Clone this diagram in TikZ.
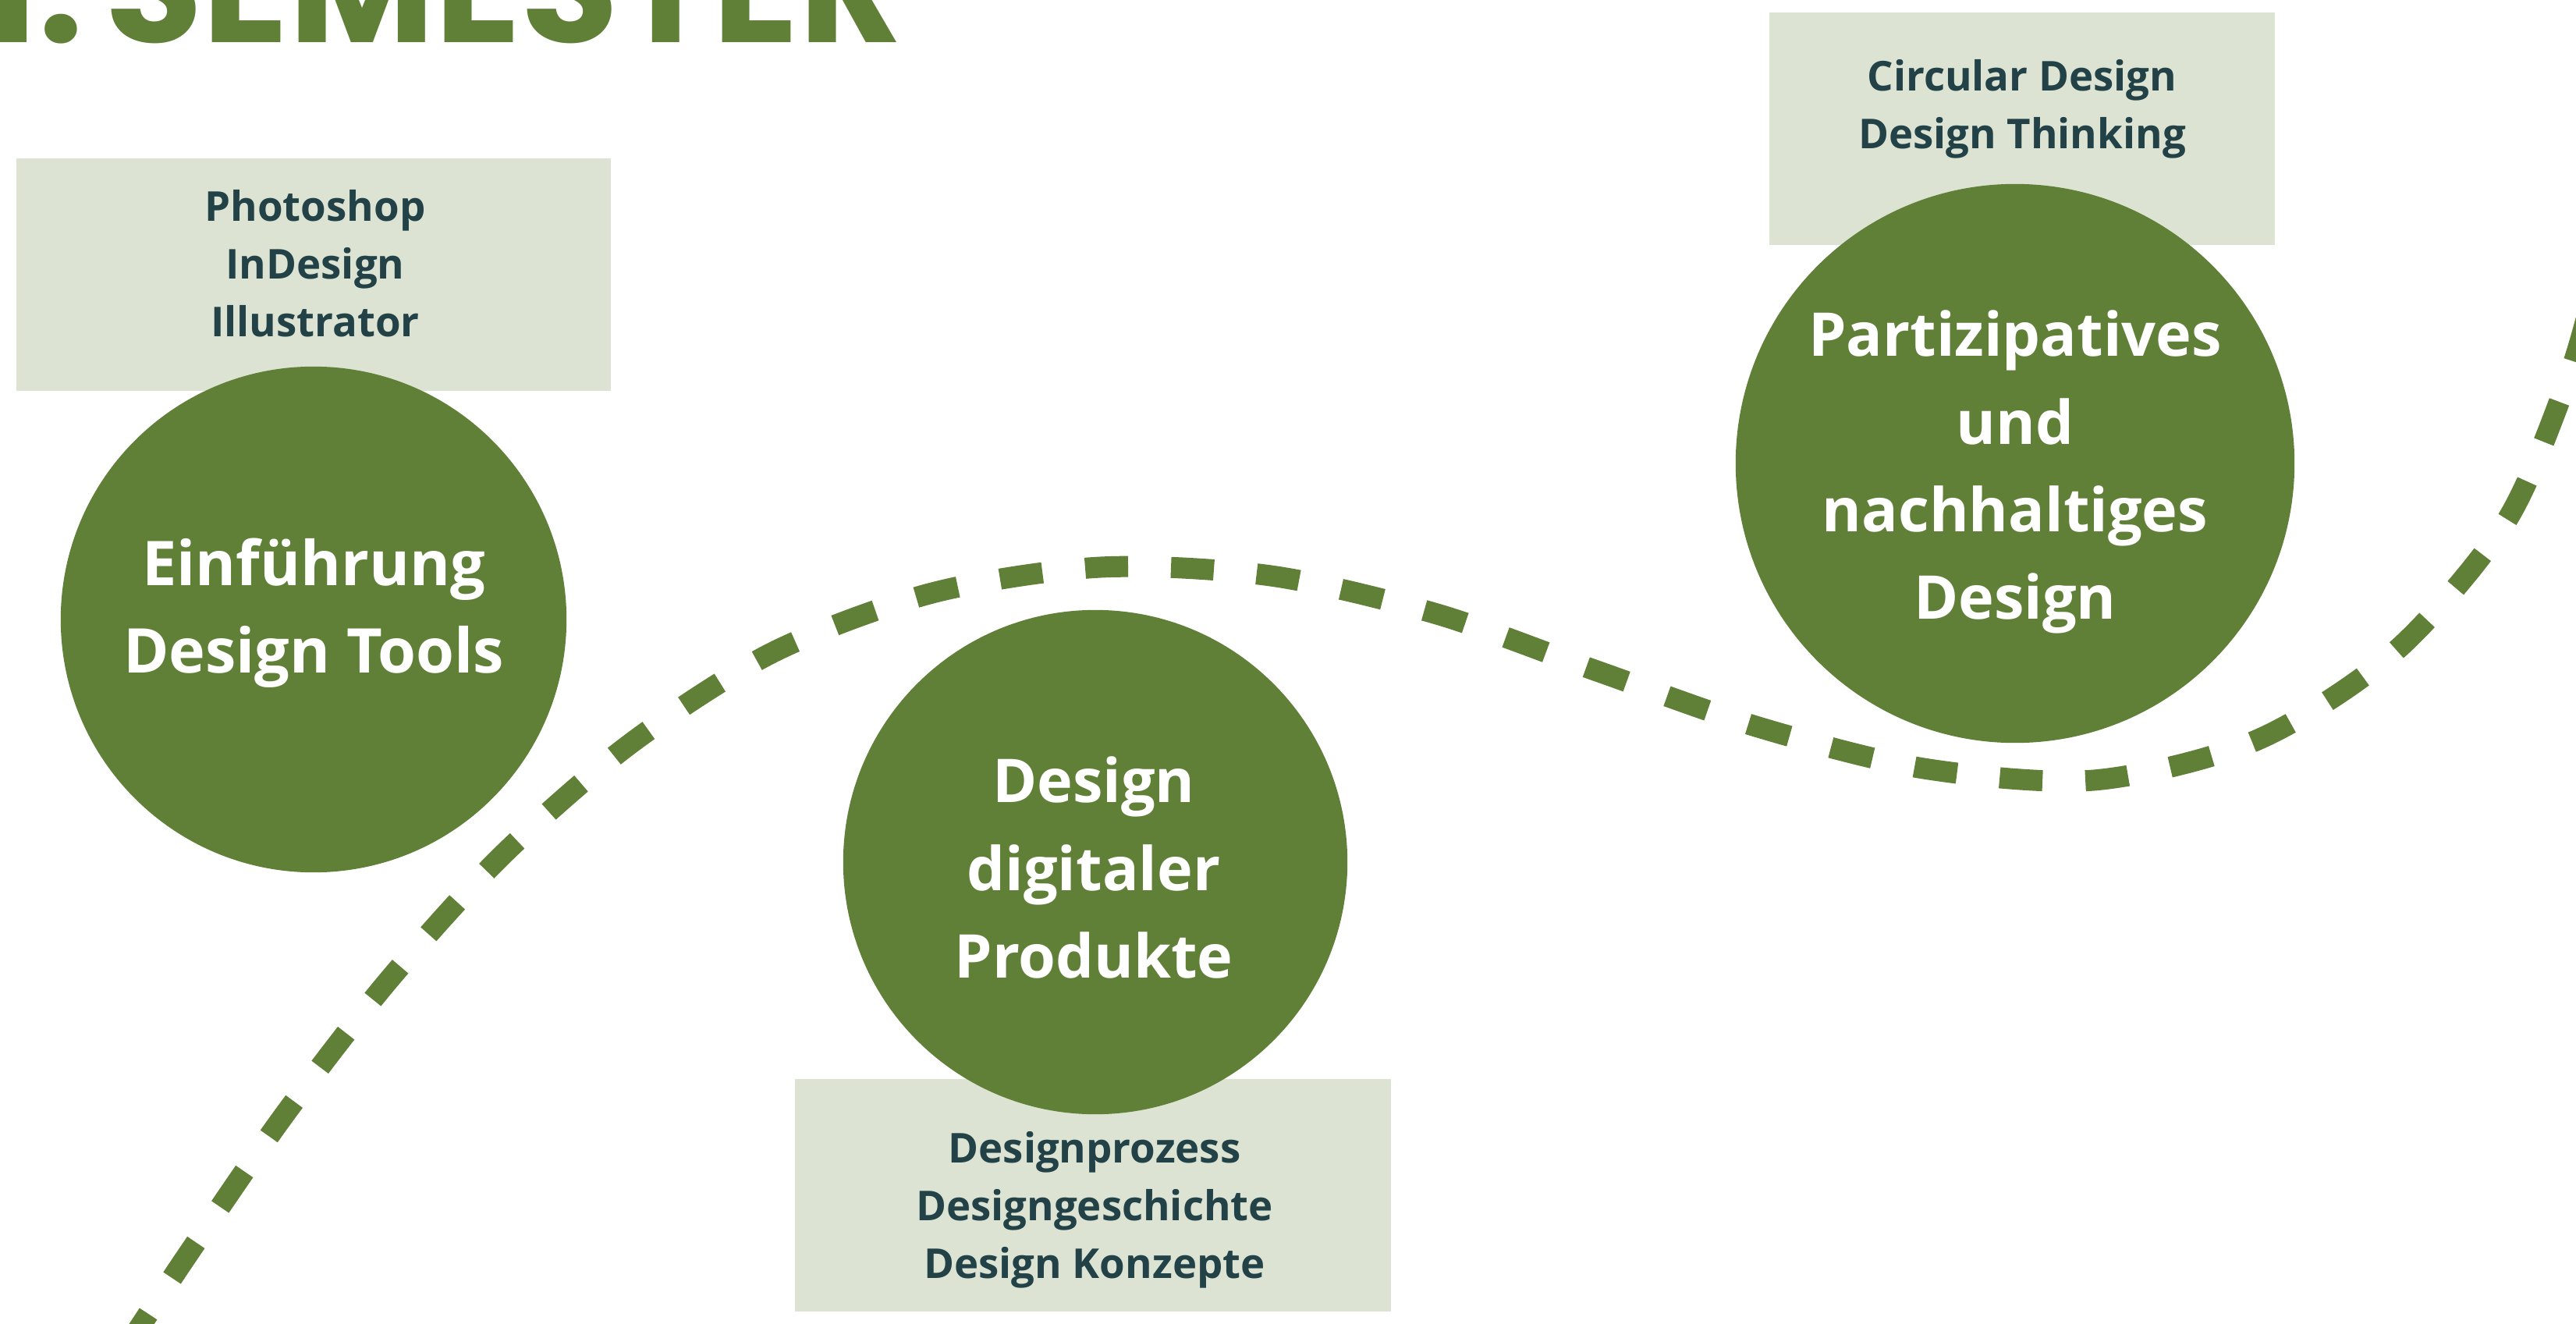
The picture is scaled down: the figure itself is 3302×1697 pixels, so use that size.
\documentclass[tikz,border=0pt]{standalone}
\usepackage{fontspec}
\setmainfont{Open Sans}
\newfontfamily\titlefont{Poppins}
\usepackage{tikz}

\definecolor{LeafGreen}{RGB}{96,128,56}
\definecolor{SageBox}{RGB}{220,227,210}
\definecolor{DarkTeal}{RGB}{34,66,72}

\tikzset{
  topic/.style = {circle, fill = LeafGreen, inner sep = 0pt},
  topictext/.style = {text = white, font = \fontsize{22}{31.9}\selectfont\bfseries, align = center, inner sep = 0pt},
  infobox/.style = {rectangle, fill = SageBox, inner sep = 0pt},
  infotext/.style = {text = DarkTeal, font = \fontsize{15}{21}\selectfont\bfseries, align = center, inner sep = 0pt},
  pathline/.style = {LeafGreen, line width = 0.27cm, dash pattern = on 0.55cm off 0.55cm}
}

\begin{document}
\begin{tikzpicture}[x = 0.01cm, y = -0.01cm]
              \useasboundingbox (0,0) rectangle (3302,1697);
              \clip (0,0) rectangle (3302,1697);
              \draw [pathline] plot [smooth, tension = 0.5] coordinates {(160,1730) (238,1612) (363,1431) (496,1259) (643,1097) (807,954) (991,836) (1195,760) (1411,727) (1629,738) (1842,787) (2047,860) (2254,932) (2466,985) (2684,1000) (2892,949) (3070,835) (3212,669) (3290,490) (3320,390)};
              \node (title) [anchor = base east, inner sep = 0pt, text = LeafGreen, font = \titlefont\fontsize{58}{60}\selectfont\bfseries] at (1158,55) {1.\hspace{-0.3cm} SEMESTER};
              \node (toolsbox) [infobox, minimum width = 7.62cm, minimum height = 2.97cm] at (402,352) {};
              \node (digitalbox) [infobox, minimum width = 7.63cm, minimum height = 2.97cm] at (1401,1532) {};
              \node (designbox) [infobox, minimum width = 6.48cm, minimum height = 2.97cm] at (2592,165) {};
              \node (tools) [topic, minimum size = 6.48cm] at (402,794) {};
              \node (digital) [topic, minimum size = 6.46cm] at (1404,1105) {};
              \node (design) [topic, minimum size = 7.16cm] at (2583,594) {};
              \node (toolslist) [infotext] at (404,338) {Photoshop\\InDesign\\Illustrator};
              \node (digitallist) [infotext] at (1403,1551) {Designprozess\\Designgeschichte\\Design Konzepte};
              \node (designlist) [infotext] at (2592,140) {Circular Design\\Design Thinking};
              \node (toolsname) [topictext, font = \fontsize{22.5}{31.9}\selectfont\bfseries] at (402,786) {Einführung\\Design Tools};
              \node (digitalname) [topictext] at (1402,1112) {Design\\digitaler\\Produkte};
              \node (designname) [topictext] at (2583,605) {Partizipatives\\und\\nachhaltiges\\Design};
\end{tikzpicture}
\end{document}
